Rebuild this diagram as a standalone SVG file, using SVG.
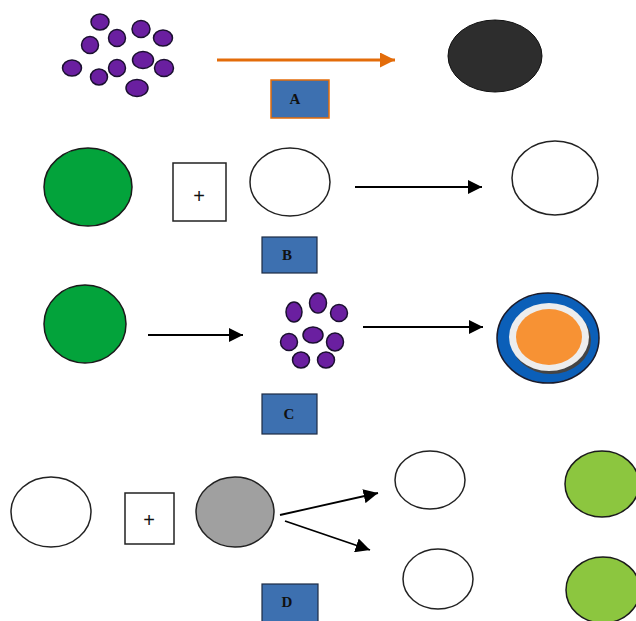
<svg xmlns="http://www.w3.org/2000/svg" width="636" height="621" viewBox="0 0 636 621">
<defs>
<marker id="ah" viewBox="0 0 10 10" refX="10" refY="5" markerWidth="8" markerHeight="8" markerUnits="strokeWidth" orient="auto"><path d="M0,0 L10,5 L0,10 z" fill="#000"/></marker>
<marker id="aho" viewBox="0 0 10 10" refX="10" refY="5" markerWidth="5" markerHeight="5" markerUnits="strokeWidth" orient="auto"><path d="M0,0 L10,5 L0,10 z" fill="#e36c0a"/></marker>
</defs>
<style>
.dot{fill:#6a1fa0;stroke:#1b1030;stroke-width:1.5}
.ol{fill:#fff;stroke:#222;stroke-width:1.5}
.lbl{fill:#3d70b0;stroke:#1d2b44;stroke-width:1.2}
.lt{font-family:"Liberation Serif",serif;font-weight:bold;font-size:15px;fill:#111;text-anchor:middle}
.pl{font-family:"Liberation Sans",sans-serif;font-size:20px;fill:#111;text-anchor:middle}
.cn{fill:none;stroke:#000;stroke-width:1.8}
</style>
<rect width="636" height="621" fill="#fff"/>

<g id="cluster1">
<ellipse class="dot" cx="100" cy="22" rx="9" ry="8"/>
<ellipse class="dot" cx="90" cy="45" rx="8.5" ry="8.5"/>
<ellipse class="dot" cx="117" cy="38" rx="8.5" ry="8.5"/>
<ellipse class="dot" cx="141" cy="29" rx="9" ry="8.5"/>
<ellipse class="dot" cx="163" cy="38" rx="9.5" ry="8"/>
<ellipse class="dot" cx="72" cy="68" rx="9.5" ry="8"/>
<ellipse class="dot" cx="99" cy="77" rx="8.5" ry="8"/>
<ellipse class="dot" cx="117" cy="68" rx="8.5" ry="8.5"/>
<ellipse class="dot" cx="143" cy="60" rx="10.5" ry="8.5"/>
<ellipse class="dot" cx="164" cy="68" rx="9.5" ry="8.5"/>
<ellipse class="dot" cx="137" cy="88" rx="11" ry="8.5"/>
</g>
<g id="blackCell"><ellipse cx="495" cy="56" rx="47" ry="36" fill="#2d2d2d" stroke="#111" stroke-width="1"/></g>
<g id="labelA"><rect x="271" y="80" width="58" height="38" fill="#3d70b0" stroke="#e36c0a" stroke-width="1.5"/><text class="lt" x="295" y="104">A</text></g>

<g id="greenB"><ellipse cx="88" cy="187" rx="44" ry="39" fill="#03a33b" stroke="#1a1a1a" stroke-width="1.5"/></g>
<g id="plusB"><rect class="ol" x="173" y="163" width="53" height="58"/><text class="pl" x="199" y="203">+</text></g>
<g id="whiteB"><ellipse class="ol" cx="290" cy="182" rx="40" ry="34"/></g>
<g id="labelB"><rect class="lbl" x="262" y="237" width="55" height="36"/><text class="lt" x="287" y="260">B</text></g>
<g id="whiteB2"><ellipse class="ol" cx="555" cy="178" rx="43" ry="37"/></g>

<g id="greenC"><ellipse cx="85" cy="324" rx="41" ry="39" fill="#03a33b" stroke="#1a1a1a" stroke-width="1.5"/></g>
<g id="cluster2">
<ellipse class="dot" cx="294" cy="312" rx="8" ry="10"/>
<ellipse class="dot" cx="318" cy="303" rx="8.5" ry="10"/>
<ellipse class="dot" cx="339" cy="313" rx="8.5" ry="8.5"/>
<ellipse class="dot" cx="289" cy="342" rx="8.5" ry="8.5"/>
<ellipse class="dot" cx="313" cy="335" rx="10" ry="8"/>
<ellipse class="dot" cx="335" cy="342" rx="8.5" ry="9"/>
<ellipse class="dot" cx="301" cy="360" rx="8.5" ry="8"/>
<ellipse class="dot" cx="326" cy="360" rx="8.5" ry="8"/>
</g>
<g id="labelC"><rect class="lbl" x="262" y="394" width="55" height="40"/><text class="lt" x="289" y="419" font-family="Liberation Sans, sans-serif">C</text></g>
<g id="ringCell">
<ellipse cx="548" cy="338" rx="51" ry="45" fill="#0b5fb8" stroke="#1a1a2a" stroke-width="1.5"/>
<ellipse cx="551" cy="340" rx="40" ry="34" fill="#444"/>
<ellipse cx="549" cy="337" rx="40" ry="34" fill="#ededed"/>
<ellipse cx="549" cy="337" rx="33" ry="28" fill="#f79234"/>
</g>

<g id="whiteD"><ellipse class="ol" cx="51" cy="512" rx="40" ry="35"/></g>
<g id="plusD"><rect class="ol" x="125" y="493" width="49" height="51"/><text class="pl" x="149" y="527">+</text></g>
<g id="grayD"><ellipse cx="235" cy="512" rx="39" ry="35" fill="#a0a0a0" stroke="#222" stroke-width="1.5"/></g>
<g id="labelD"><rect class="lbl" x="262" y="584" width="56" height="40"/><text class="lt" x="287" y="607">D</text></g>
<g id="whiteD1"><ellipse class="ol" cx="430" cy="480" rx="35" ry="29"/></g>
<g id="whiteD2"><ellipse class="ol" cx="438" cy="579" rx="35" ry="30"/></g>
<g id="greenD1"><ellipse cx="602" cy="484" rx="37" ry="33" fill="#8cc63f" stroke="#1a1a1a" stroke-width="1.5"/></g>
<g id="greenD2"><ellipse cx="603" cy="590" rx="37" ry="33" fill="#8cc63f" stroke="#1a1a1a" stroke-width="1.5"/></g>

<g id="connectors">
<line x1="217" y1="60" x2="395" y2="60" stroke="#e36c0a" stroke-width="3" marker-end="url(#aho)"/>
<line class="cn" x1="355" y1="187" x2="482" y2="187" marker-end="url(#ah)"/>
<line class="cn" x1="148" y1="335" x2="243" y2="335" marker-end="url(#ah)"/>
<line class="cn" x1="363" y1="327" x2="483" y2="327" marker-end="url(#ah)"/>
<line class="cn" x1="280" y1="515" x2="378" y2="493" marker-end="url(#ah)"/>
<line class="cn" x1="285" y1="521" x2="370" y2="550" marker-end="url(#ah)"/>
</g>
</svg>
